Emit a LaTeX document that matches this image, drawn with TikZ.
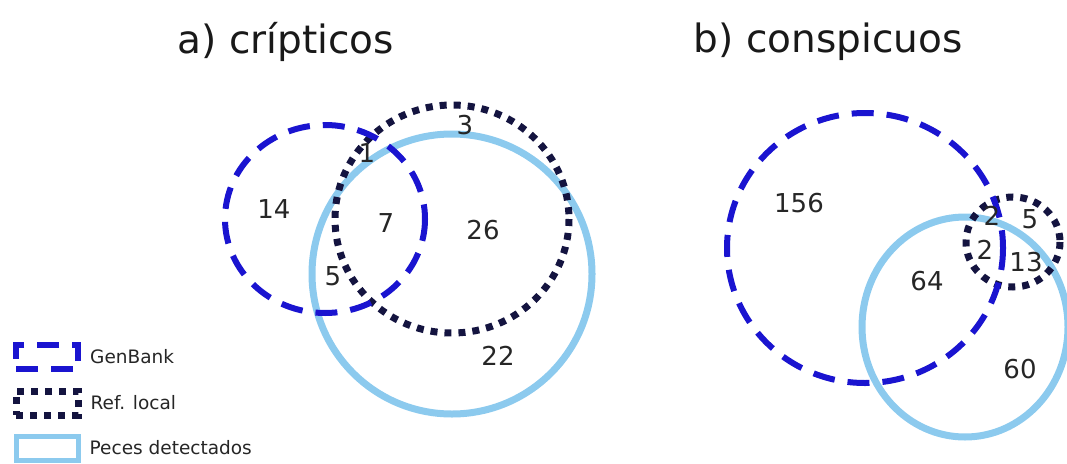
\documentclass[tikz,border=0pt]{standalone}
\usepackage{fontspec}
\setmainfont{DejaVu Sans}
\usetikzlibrary{positioning}
\definecolor{gbblue}{RGB}{26,20,208}
\definecolor{refnavy}{RGB}{20,20,64}
\definecolor{pecblue}{RGB}{140,202,238}
\tikzset{
  gb/.style = {draw=gbblue, line width=6pt, dash pattern=on 22pt off 13pt},
  rl/.style = {draw=refnavy, line width=7pt, dash pattern=on 7pt off 7pt},
  pd/.style = {draw=pecblue, line width=7pt},
  num/.style = {font=\fontsize{26}{30}\selectfont, text=black!85, inner sep=0pt},
  ttl/.style = {font=\fontsize{39}{44}\selectfont, text=black!90, inner sep=0pt},
  lgbox/.style = {minimum width=62pt, minimum height=24pt, inner sep=0pt},
  lgtxt/.style = {font=\fontsize{18.5}{22}\selectfont, text=black!85, inner sep=0pt, right=9pt of #1}
}
\begin{document}
\begin{tikzpicture}[x=1pt, y=-1pt]
  \useasboundingbox (0,0) rectangle (1067,463);
  % titles
  \node[ttl] (ta) at (286,42) {a) crípticos};
  \node[ttl] (tb) at (828,42) {b) conspicuos};
  % a) cripticos
  \draw[pd] (452,274) ellipse [x radius=140, y radius=140];
  \draw[rl] (452,219) ellipse [x radius=117, y radius=114];
  \draw[gb] (325,219) ellipse [x radius=100, y radius=94];
  \node[num] (a14) at (274,209) {14};
  \node[num] (a1) at (367,153) {1};
  \node[num] (a3) at (465,125) {3};
  \node[num] (a7) at (386,223) {7};
  \node[num] (a26) at (483,230) {26};
  \node[num] (a5) at (333,276) {5};
  \node[num] (a22) at (498,356) {22};
  % b) conspicuos
  \begin{scope}
    \clip (0,0) rectangle (1067,463);
    \draw[pd] (965,327) ellipse [x radius=103, y radius=110];
    \draw[rl] (1013,242) ellipse [x radius=47, y radius=45];
    \draw[gb] (865,248) ellipse [x radius=138, y radius=135];
  \end{scope}
  \node[num] (b156) at (799,203) {156};
  \node[num] (b2a) at (992,216) {2};
  \node[num] (b5) at (1030,219) {5};
  \node[num] (b2b) at (985,250) {2};
  \node[num] (b13) at (1026,262) {13};
  \node[num] (b64) at (927,281) {64};
  \node[num] (b60) at (1020,369) {60};
  % legend
  \node[lgbox, gb] (lgb) at (47,357) {};
  \node[lgtxt=lgb] (tgb) {GenBank};
  \node[lgbox, rl] (lrl) at (47,403) {};
  \node[lgtxt=lrl] (trl) {Ref. local};
  \node[lgbox, pd, line width=5pt] (lpd) at (47,448) {};
  \node[lgtxt=lpd] (tpd) {Peces detectados};
\end{tikzpicture}
\end{document}
